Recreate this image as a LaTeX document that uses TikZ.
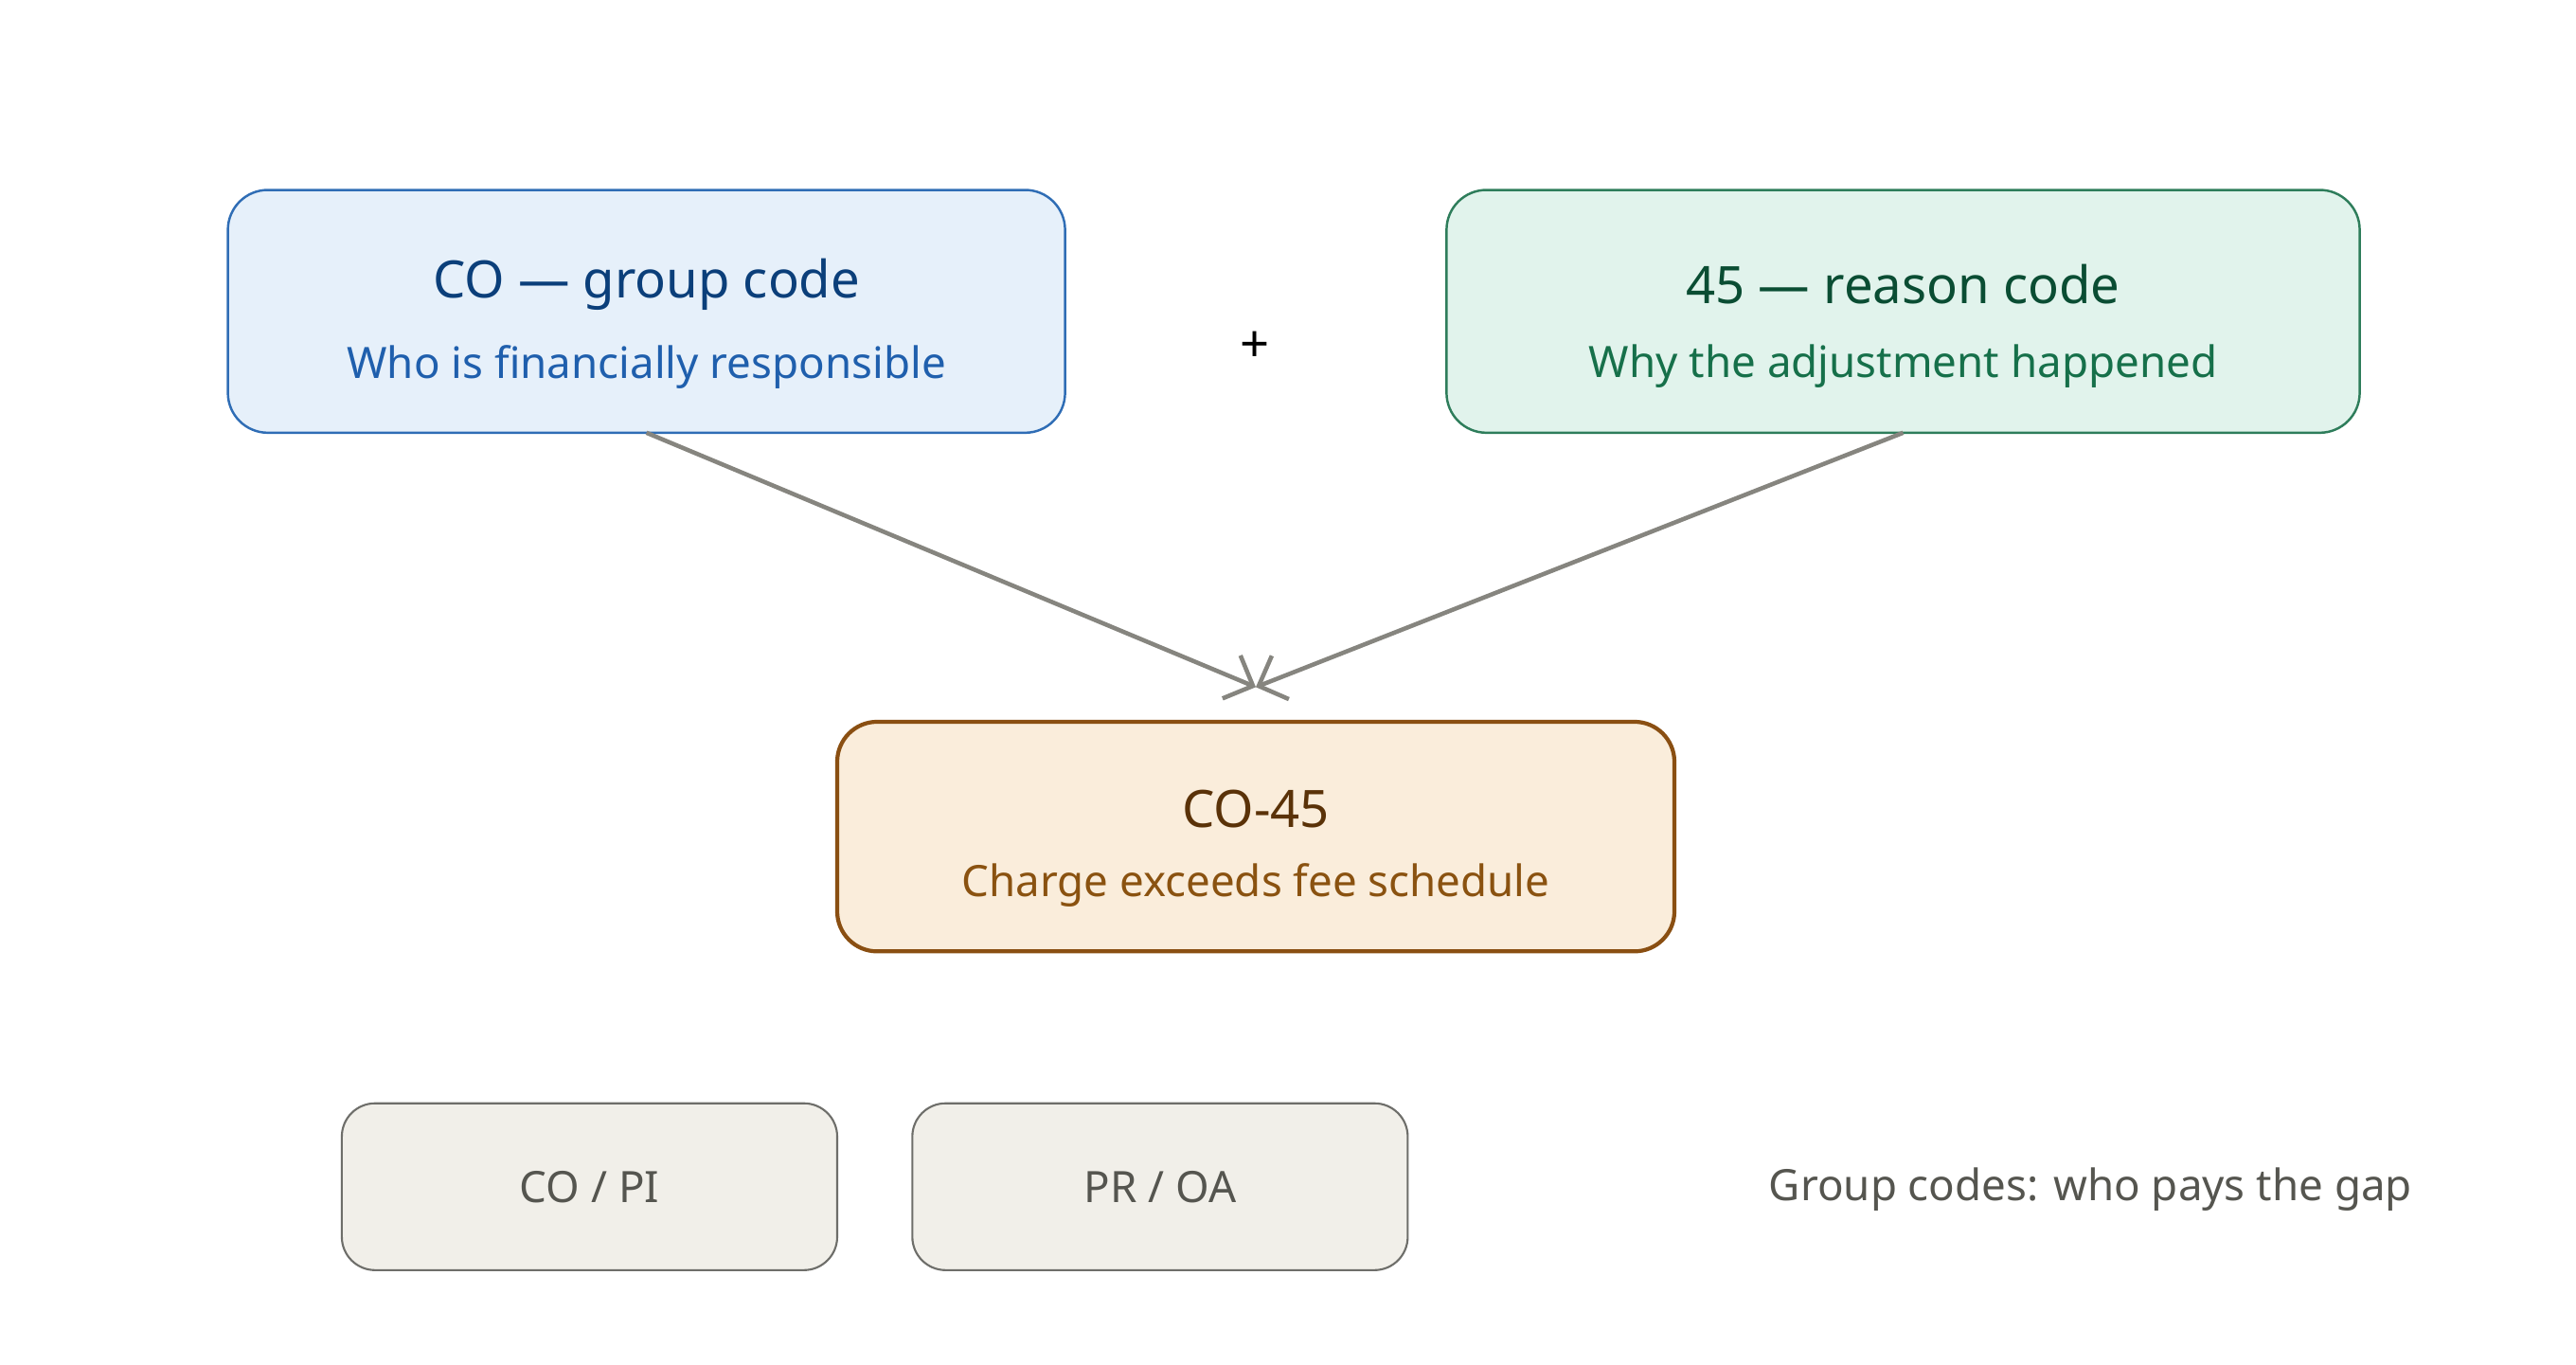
\documentclass[tikz,border=0pt]{standalone}
\usepackage{fontspec}
\setmainfont{Noto Sans}
\usetikzlibrary{arrows.meta}
\definecolor{blueline}{HTML}{2F6DB5}
\definecolor{bluefill}{HTML}{E6F0FA}
\definecolor{bluetitle}{HTML}{0B3F7A}
\definecolor{bluetext}{HTML}{1F5FAD}
\definecolor{greenline}{HTML}{2E7D5B}
\definecolor{greenfill}{HTML}{E1F3EC}
\definecolor{greentitle}{HTML}{0A4D33}
\definecolor{greentext}{HTML}{16704A}
\definecolor{brownline}{HTML}{8A4F12}
\definecolor{brownfill}{HTML}{FAEDDB}
\definecolor{browntitle}{HTML}{5A3208}
\definecolor{browntext}{HTML}{8A5210}
\definecolor{greyline}{HTML}{6E6E6A}
\definecolor{greyfill}{HTML}{F1EFE9}
\definecolor{greytext}{HTML}{55554F}
\definecolor{arrowgrey}{HTML}{86857F}
\tikzset{
  codebox/.style={draw, rounded corners=12pt, line width=0.7pt},
  tagbox/.style={draw=greyline, fill=greyfill, rounded corners=10pt, line width=0.6pt,
    minimum width=300*0.01744cm, minimum height=101*0.01744cm, text=greytext, font=\fontsize{13}{15}\selectfont},
  title/.style={font=\fontsize{15.5}{18}\selectfont\bfseries},
  sub/.style={font=\fontsize{13}{15}\selectfont},
  link/.style={draw=arrowgrey, line width=1.3pt, -{Straight Barb[length=7pt,width=14pt]}}
}
\begin{document}
\begin{tikzpicture}[x=0.01744cm,y=-0.01744cm]
  \useasboundingbox (0,0) rectangle (1560,826);

  % group code box
  \draw[codebox, draw=blueline, fill=bluefill] (138,115) rectangle (645,262);
  \node[title, text=bluetitle] (coT) at (391.5,172) {CO — group code};
  \node[sub, text=bluetext] (coS) at (391.5,222) {Who is financially responsible};
  \coordinate (coB) at (391.5,262);

  % reason code box
  \draw[codebox, draw=greenline, fill=greenfill] (876,115) rectangle (1429,262);
  \node[title, text=greentitle] (rcT) at (1152.5,172) {45 — reason code};
  \node[sub, text=greentext] (rcS) at (1152.5,222) {Why the adjustment happened};
  \coordinate (rcB) at (1152.5,262);

  \node[title] (plus) at (760,210) {+};

  % combined code
  \draw[codebox, draw=brownline, fill=brownfill, line width=1.2pt] (507,437) rectangle (1014,576);
  \node[title, text=browntitle] (ccT) at (760.5,490) {CO-45};
  \node[sub, text=browntext] (ccS) at (760.5,536) {Charge exceeds fee schedule};
  \coordinate (meet) at (760.5,416);

  \draw[link] (coB) -- (meet);
  \draw[link] (rcB) -- (meet);

  % group code tags
  \node[tagbox] (tag1) at (357,718.5) {CO / PI};
  \node[tagbox] (tag2) at (702.5,718.5) {PR / OA};
  \node[sub, text=greytext] (note) at (1266,720) {Group codes: who pays the gap};
\end{tikzpicture}
\end{document}
